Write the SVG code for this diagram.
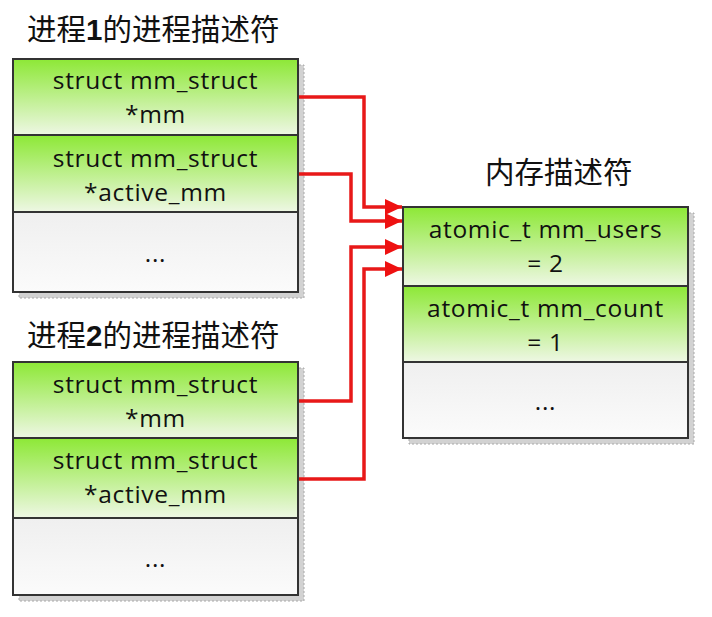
<svg xmlns="http://www.w3.org/2000/svg" width="712" height="617" viewBox="0 0 712 617">
<defs>
<linearGradient id="g" x1="0" y1="0" x2="0" y2="1">
<stop offset="0" stop-color="#8de836"/>
<stop offset="1" stop-color="#eef7e4"/>
</linearGradient>
<linearGradient id="w" x1="0" y1="0" x2="0" y2="1">
<stop offset="0" stop-color="#efefef"/>
<stop offset="1" stop-color="#fbfbfb"/>
</linearGradient>
<marker id="ah" markerWidth="17" markerHeight="16" refX="17" refY="8" orient="auto" markerUnits="userSpaceOnUse">
<path d="M0,0 L17,8 L0,16 Z" fill="#ee1111"/>
</marker>
</defs>
<style>
.sh{fill:#d2d2d2;stroke:#a9a9a9;stroke-width:1;stroke-dasharray:2 2}
.gr{fill:url(#g);stroke:#333;stroke-width:2}
.wt{fill:url(#w);stroke:#333;stroke-width:2}
.t{font-family:"Open Sans","Liberation Sans",sans-serif;font-size:24.5px;letter-spacing:0.7px;fill:#111;text-anchor:middle}
.h{font-family:"Noto Sans CJK SC",sans-serif;font-size:29.5px;fill:#111}
.c{fill:none;stroke:#e81818;stroke-width:3.5;marker-end:url(#ah)}
</style>
<g id="title1"><text class="h" x="27" y="40">进程<tspan font-family="Liberation Sans,sans-serif" font-weight="bold">1</tspan>的进程描述符</text></g>
<g id="title2"><text class="h" x="27" y="346">进程<tspan font-family="Liberation Sans,sans-serif" font-weight="bold">2</tspan>的进程描述符</text></g>
<g id="title3"><text class="h" x="485" y="183">内存描述符</text></g>

<g id="proc1">
<rect class="sh" x="19" y="65" width="285" height="233"/>
<rect class="gr" x="13" y="59" width="285" height="76"/>
<rect class="gr" x="13" y="135" width="285" height="77"/>
<rect class="wt" x="13" y="212" width="285" height="80"/>
<text class="t" x="155.5" y="89">struct mm_struct</text>
<text class="t" x="155.5" y="123">*mm</text>
<text class="t" x="155.5" y="167">struct mm_struct</text>
<text class="t" x="155.5" y="201">*active_mm</text>
<text class="t" x="155.5" y="262">...</text>
</g>

<g id="proc2">
<rect class="sh" x="19" y="368" width="285" height="233"/>
<rect class="gr" x="13" y="362" width="285" height="76"/>
<rect class="gr" x="13" y="438" width="285" height="80"/>
<rect class="wt" x="13" y="518" width="285" height="77"/>
<text class="t" x="155.5" y="393">struct mm_struct</text>
<text class="t" x="155.5" y="427">*mm</text>
<text class="t" x="155.5" y="469">struct mm_struct</text>
<text class="t" x="155.5" y="503">*active_mm</text>
<text class="t" x="155.5" y="567">...</text>
</g>

<g id="mm">
<rect class="sh" x="409" y="213" width="285" height="231"/>
<rect class="gr" x="403" y="207" width="285" height="79"/>
<rect class="gr" x="403" y="286" width="285" height="76"/>
<rect class="wt" x="403" y="362" width="285" height="76"/>
<text class="t" x="545.5" y="238">atomic_t mm_users</text>
<text class="t" x="545.5" y="272">= 2</text>
<text class="t" x="545.5" y="317">atomic_t mm_count</text>
<text class="t" x="545.5" y="351">= 1</text>
<text class="t" x="545.5" y="410">...</text>
</g>

<g id="connectors">
<polyline class="c" points="299,97 364,97 364,207 402,207"/>
<polyline class="c" points="299,174 351,174 351,221 402,221"/>
<polyline class="c" points="299,401 351,401 351,247 402,247"/>
<polyline class="c" points="299,479 364,479 364,269 402,269"/>
</g>
</svg>
